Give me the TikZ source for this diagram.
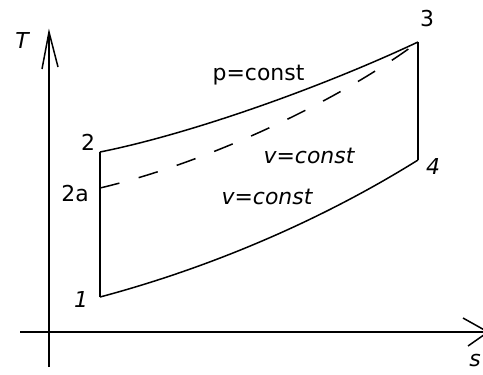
\documentclass[tikz,border=0pt]{standalone}
\usepackage{fontspec}
\newfontfamily\labfont{DejaVu Sans}
\begin{document}
\begin{tikzpicture}[x=1bp,y=-1bp,
  curve/.style={line width=1.5bp, black},
  axis/.style={line width=1.7bp, black},
  lab/.style={inner sep=0pt, font=\labfont\fontsize{22}{26}\selectfont},
  ilab/.style={lab, font=\labfont\itshape\fontsize{22}{26}\selectfont}]
\useasboundingbox (0,0) rectangle (483,374);
% axes
\coordinate (ob) at (49,367);
\coordinate (ot) at (49,32);
\coordinate (ol) at (20,332);
\coordinate (or) at (488,332);
\coordinate (tbl) at (42,69);
\coordinate (tbr) at (58,67);
\coordinate (sbu) at (463,318);
\coordinate (sbd) at (468,346);
\draw[axis] (ob) -- (ot);
\draw[axis] (ol) -- (or);
\draw[curve] (tbl) -- (ot) -- (tbr);
\draw[curve] (sbu) -- (or) -- (sbd);
\node[ilab] (T) at (22,41) {T};
\node[ilab] (s) at (475,361) {s};
% cycle points
\coordinate (p1) at (100,297);
\coordinate (p2) at (100,152);
\coordinate (p2a) at (100,188);
\coordinate (p3) at (418,42);
\coordinate (p4) at (418,160);
\draw[curve] (p1) -- (p2);
\draw[curve] (p3) -- (p4);
\draw[curve] (p2) .. controls (190,134) and (320,88) .. (p3);
\draw[curve] (p1) .. controls (220,265) and (330,215) .. (p4);
\draw[curve, dash pattern=on 20bp off 20bp] (p2a) .. controls (210,162) and (340,100) .. (p3);
% labels
\node[ilab] (l1) at (81,299) {1};
\node[lab] (l2) at (88,142) {2};
\node[lab] (l2a) at (75,194) {2a};
\node[lab] (l3) at (427,19) {3};
\node[ilab] (l4) at (433,167) {4};
\node[lab] (pc) at (258.5,75) {p=const};
\node[ilab] (vc1) at (309,156) {v=const};
\node[ilab] (vc2) at (267,197) {v=const};
\end{tikzpicture}
\end{document}
